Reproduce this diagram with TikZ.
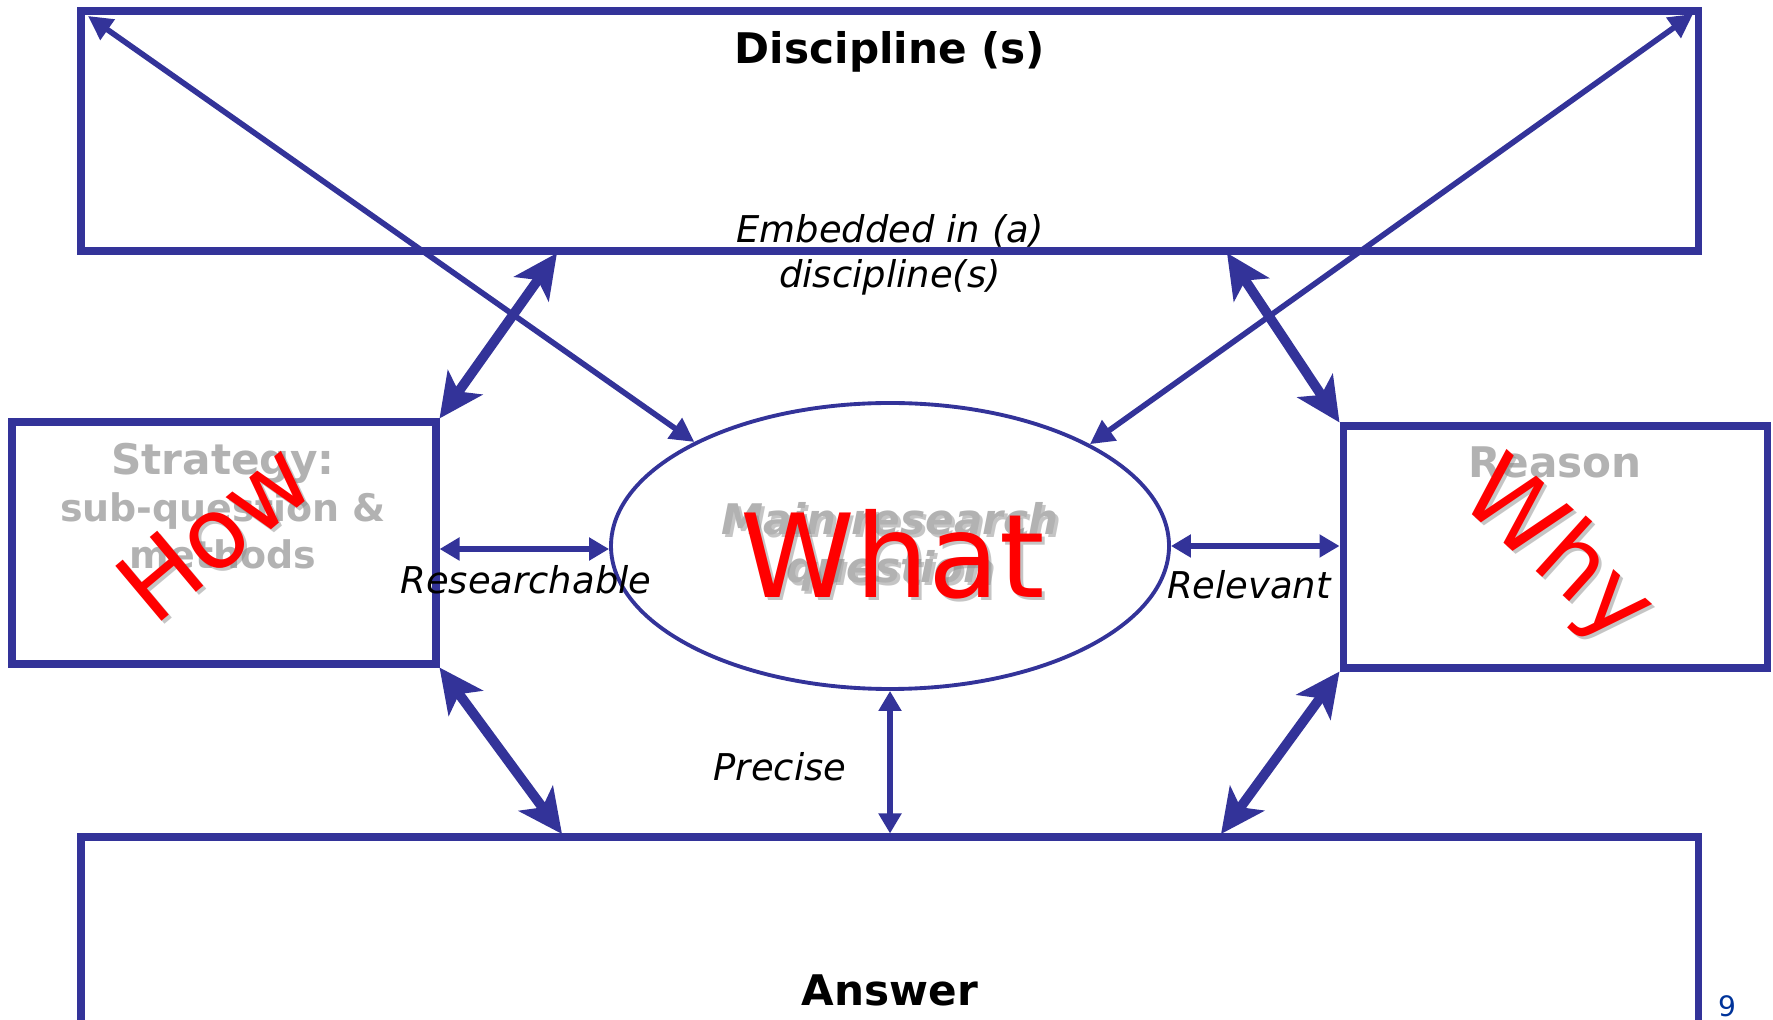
\documentclass[tikz,border=0pt]{standalone}
\usepackage{fontspec}
\setmainfont{DejaVu Sans}
\usepackage{xcolor}
\usetikzlibrary{arrows.meta,positioning,calc,shapes.geometric}
\definecolor{navy}{RGB}{51,51,153}
\definecolor{pagenum}{RGB}{0,51,153}
\definecolor{ghost}{RGB}{178,178,178}

\begin{document}
\begin{tikzpicture}[
    box/.style={draw=navy,line width=2pt,inner sep=0pt},
    hd/.style={font=\fontsize{12}{14}\selectfont\bfseries},
    lbl/.style={font=\fontsize{10.5}{12.8}\selectfont\itshape,align=center},
    grey/.style={text=ghost,font=\fontsize{10.8}{13.4}\selectfont\bfseries,align=center},
    big/.style={text=red,font=\fontsize{#1}{#1}\selectfont},
    dropsh/.style={text=black!45,opacity=0.5},
    thinarr/.style={navy,line width=1.6pt,{Triangle[length=2.4mm,width=2.4mm]}-{Triangle[length=2.4mm,width=2.4mm]}},
    thickarr/.style={navy,line width=2.8pt,{Stealth[length=4.4mm,width=4.2mm,inset=1.1mm]}-{Stealth[length=4.4mm,width=4.2mm,inset=1.1mm]}},
    smallarr/.style={navy,line width=1.5pt,{Triangle[length=2mm,width=2.2mm]}-{Triangle[length=2mm,width=2.2mm]}}
  ]
  \useasboundingbox (0,0) rectangle (17.73,-10.20);
  \clip (0,0) rectangle (17.73,-10.20);

  % boxes
  \node[box,minimum width=16.17cm,minimum height=2.40cm] (disc) at (8.895,-1.31) {};
  \node[box,minimum width=4.24cm,minimum height=2.42cm] (strat) at (2.24,-5.43) {};
  \node[box,minimum width=4.24cm,minimum height=2.42cm] (reason) at (15.55,-5.47) {};
  \node[box,minimum width=16.17cm,minimum height=2.60cm] (ans) at (8.895,-9.67) {};
  \node[ellipse,draw=navy,line width=1.1pt,inner sep=0pt,
        minimum width=5.58cm,minimum height=2.86cm] (main) at (8.90,-5.46) {};

  % free ends on the long boxes
  \coordinate (dNW) at (0.88,-0.16);
  \coordinate (dNE) at (16.93,-0.14);
  \coordinate (dSL) at (5.57,-2.53);
  \coordinate (dSR) at (12.27,-2.53);
  \coordinate (aNL) at (5.62,-8.34);
  \coordinate (aNR) at (12.21,-8.34);

  % texts
  \node[hd] (discT) at (8.90,-0.52) {Discipline (s)};
  \node[lbl] (embT) at (8.90,-2.55) {Embedded in (a)\\discipline(s)};
  \node[hd] (ansT) at (8.90,-9.90) {Answer};
  \node[grey] (stratT) at (2.23,-5.06) {{\fontsize{12}{14}\selectfont Strategy:}\\sub-question \&\\methods};
  \node[grey,font=\fontsize{12}{14}\selectfont\bfseries] (reasonT) at (15.55,-4.62) {Reason};
  \node[grey,dropsh,font=\fontsize{12}{13.6}\selectfont\bfseries\itshape] (mainS) at (8.93,-5.50) {Main research\\question};
  \node[grey,font=\fontsize{12}{13.6}\selectfont\bfseries\itshape] (mainT) at (8.90,-5.47) {Main research\\question};
  \node[lbl] (resT) at (5.26,-5.80) {Researchable};
  \node[lbl] (relT) at (12.49,-5.85) {Relevant};
  \node[lbl] (preT) at (7.80,-7.67) {Precise};
  \node[text=pagenum,font=\fontsize{8}{9}\selectfont] (pg) at (17.27,-10.06) {9};

  % connectors
  \draw[thinarr] (dNW) -- (main.152);
  \draw[thinarr] (dNE) -- (main.27);
  \draw[thickarr] (strat.north east) -- (dSL);
  \draw[thickarr] (dSR) -- (reason.north west);
  \draw[thickarr] (strat.south east) -- (aNL);
  \draw[thickarr] (reason.south west) -- (aNR);
  \draw[smallarr] ($(strat.east |- main.west)+(0,-0.03)$) -- ($(main.west)+(0,-0.03)$);
  \draw[smallarr] (main.east) -- (main.east -| reason.west);
  \draw[smallarr] (main.south) -- (main.south |- ans.north);

  % red overlays
  \node[big=33,dropsh] (whatS) at (8.96,-5.57) {What};
  \node[big=33] (what) at (8.93,-5.54) {What};
  \node[big=28,dropsh,rotate=40] (howS) at (2.17,-5.35) {How};
  \node[big=28,rotate=40] (how) at (2.14,-5.32) {How};
  \node[big=28,dropsh,rotate=-42] (whyS) at (15.59,-5.56) {Why};
  \node[big=28,rotate=-42] (why) at (15.56,-5.53) {Why};
\end{tikzpicture}
\end{document}
